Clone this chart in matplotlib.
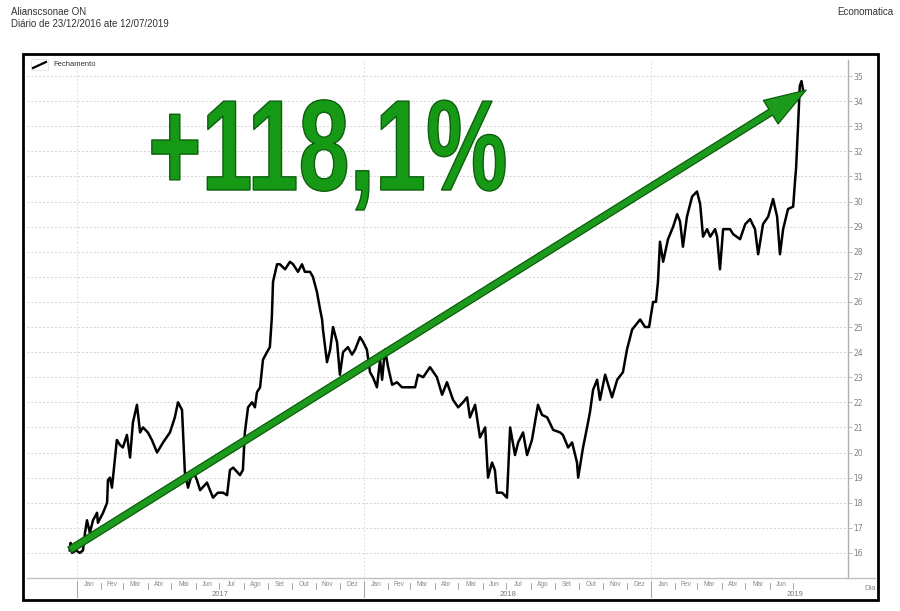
import matplotlib
matplotlib.use("Agg")
import matplotlib.pyplot as plt
import matplotlib.patheffects as pe
from matplotlib.patches import Rectangle, FancyArrowPatch
from matplotlib.lines import Line2D
import matplotlib.transforms as mtransforms

# ---------------- data (decimal year, closing price) ----------------
t = [2016.975, 2016.978, 2016.983, 2016.997, 2017.010, 2017.021, 2017.028, 2017.035, 2017.045, 2017.056,
     2017.070, 2017.073, 2017.091, 2017.105, 2017.108, 2017.115, 2017.122, 2017.132, 2017.139, 2017.150,
     2017.160, 2017.174, 2017.185, 2017.195, 2017.209, 2017.220, 2017.230, 2017.247, 2017.261, 2017.279,
     2017.300, 2017.324, 2017.341, 2017.352, 2017.366, 2017.376, 2017.387, 2017.404, 2017.418, 2017.429,
     2017.453, 2017.474, 2017.491, 2017.509, 2017.523, 2017.533, 2017.544, 2017.568, 2017.578, 2017.585,
     2017.596, 2017.610, 2017.620, 2017.627, 2017.638, 2017.648, 2017.662, 2017.672, 2017.679, 2017.683,
     2017.697, 2017.707, 2017.725, 2017.742, 2017.753, 2017.770, 2017.784, 2017.794, 2017.812, 2017.822,
     2017.836, 2017.847, 2017.854, 2017.857, 2017.871, 2017.882, 2017.892, 2017.906, 2017.916, 2017.927,
     2017.944, 2017.958, 2017.969, 2017.986, 2017.997, 2018.010, 2018.021, 2018.031, 2018.045, 2018.056,
     2018.063, 2018.073, 2018.084, 2018.098, 2018.115, 2018.132, 2018.150, 2018.178, 2018.188, 2018.206,
     2018.230, 2018.254, 2018.272, 2018.289, 2018.310, 2018.328, 2018.345, 2018.359, 2018.369, 2018.387,
     2018.404, 2018.422, 2018.432, 2018.446, 2018.456, 2018.463, 2018.481, 2018.498, 2018.509, 2018.526,
     2018.537, 2018.554, 2018.568, 2018.585, 2018.606, 2018.620, 2018.638, 2018.659, 2018.683, 2018.693,
     2018.711, 2018.725, 2018.742, 2018.746, 2018.763, 2018.777, 2018.787, 2018.798, 2018.812, 2018.822,
     2018.840, 2018.864, 2018.882, 2018.902, 2018.916, 2018.934, 2018.962, 2018.979, 2018.993, 2019.007,
     2019.017, 2019.024, 2019.031, 2019.042, 2019.059, 2019.077, 2019.091, 2019.101, 2019.111, 2019.125,
     2019.143, 2019.160, 2019.171, 2019.181, 2019.195, 2019.206, 2019.223, 2019.230, 2019.240, 2019.251,
     2019.275, 2019.286, 2019.310, 2019.328, 2019.345, 2019.362, 2019.373, 2019.390, 2019.408, 2019.425,
     2019.439, 2019.449, 2019.460, 2019.477, 2019.495, 2019.502, 2019.505, 2019.512, 2019.518, 2019.524,
     2019.530]
fechamento = [16.1, 16.4, 16.0, 16.1, 16.0, 16.1, 16.8, 17.3, 16.8, 17.3,
              17.6, 17.2, 17.6, 18.0, 18.9, 19.0, 18.6, 19.7, 20.5, 20.3,
              20.2, 20.7, 19.8, 21.2, 21.9, 20.8, 21.0, 20.8, 20.5, 20.0,
              20.4, 20.8, 21.4, 22.0, 21.7, 19.2, 18.6, 19.3, 18.9, 18.5,
              18.8, 18.2, 18.4, 18.4, 18.3, 19.3, 19.4, 19.1, 19.3, 20.8,
              21.8, 22.0, 21.8, 22.4, 22.6, 23.7, 24.0, 24.2, 25.4, 26.8,
              27.5, 27.5, 27.3, 27.6, 27.5, 27.2, 27.5, 27.2, 27.2, 27.0,
              26.4, 25.7, 25.3, 24.9, 23.6, 24.1, 25.0, 24.4, 23.1, 24.0,
              24.2, 23.9, 24.1, 24.6, 24.4, 24.1, 23.2, 23.0, 22.6, 23.7,
              22.9, 24.1, 23.4, 22.7, 22.8, 22.6, 22.6, 22.6, 23.1, 23.0,
              23.4, 23.0, 22.3, 22.8, 22.1, 21.8, 22.0, 22.2, 21.4, 21.9,
              20.6, 21.0, 19.0, 19.6, 19.3, 18.4, 18.4, 18.2, 21.0, 19.9,
              20.4, 20.8, 19.9, 20.5, 21.9, 21.5, 21.4, 20.9, 20.8, 20.7,
              20.2, 20.4, 19.6, 19.0, 20.2, 21.0, 21.6, 22.5, 22.9, 22.1,
              23.1, 22.2, 22.9, 23.2, 24.1, 24.9, 25.3, 25.0, 25.0, 26.0,
              26.0, 26.8, 28.4, 27.6, 28.5, 29.0, 29.5, 29.2, 28.2, 29.4,
              30.2, 30.4, 29.9, 28.6, 28.9, 28.6, 28.9, 28.6, 27.3, 28.9,
              28.9, 28.7, 28.5, 29.1, 29.3, 28.9, 27.9, 29.1, 29.4, 30.1,
              29.4, 27.9, 28.9, 29.7, 29.8, 30.9, 31.3, 33.0, 34.6, 34.8,
              34.4]

years = [2017, 2018, 2019]
months = ["Jan", "Fev", "Mar", "Abr", "Mai", "Jun", "Jul", "Ago", "Set", "Out", "Nov", "Dez"]
month_days = [0, 31, 59, 90, 120, 151, 181, 212, 243, 273, 304, 334, 365]
months_2019 = 6
y_ticks = list(range(16, 36))
retorno_txt = "+118,1%"

# ---------------- figure ----------------
W, H = 900, 611
fig = plt.figure(figsize=(W / 100, H / 100), dpi=100)
fig.patch.set_facecolor("white")

def fx(px):
    return px / W

def fy(py):
    return 1 - py / H


class CondensedStroke(pe.AbstractPathEffect):
    """Draws text glyphs horizontally condensed around x0 (display px), with an outline."""

    def __init__(self, x0, sx, edge, lw):
        super().__init__()
        self.x0, self.sx, self.edge, self.lw = x0, sx, edge, lw

    def draw_path(self, renderer, gc, tpath, affine, rgbFace=None):
        aff = affine + mtransforms.Affine2D().translate(-self.x0, 0).scale(self.sx, 1).translate(self.x0, 0)
        gc0 = renderer.new_gc()
        gc0.copy_properties(gc)
        gc0.set_foreground(self.edge)
        gc0.set_linewidth(self.lw)
        renderer.draw_path(gc0, tpath, aff, rgbFace)
        gc0.restore()


ax = fig.add_axes([fx(27), fy(578), fx(848) - fx(27), fy(60) - fy(578)])
ax.set_xlim(2016.826, 2019.686)
ax.set_ylim(15.0, 35.64)

for s in ["top", "left", "bottom"]:
    ax.spines[s].set_visible(False)
ax.spines["right"].set_color("#b0b0b0")
ax.spines["right"].set_linewidth(1.0)

ax.yaxis.tick_right()
ax.set_yticks(y_ticks)
ax.tick_params(axis="y", direction="out", length=3, width=0.6, colors="#b0b0b0",
               labelcolor="#808080", labelsize=5.5, pad=1)
ax.set_xticks([])
ax.grid(axis="y", color="#d4d4d4", linestyle=(0, (2, 2)), linewidth=0.7)
for yr in years:
    ax.axvline(yr, color="#dddddd", linestyle=(0, (2, 2)), linewidth=0.7, zorder=0)

# price line
ax.plot(t, fechamento, color="black", linewidth=1.8, solid_joinstyle="round", zorder=3)

# arrow
arrow = FancyArrowPatch((t[0], 16.12), (2019.54, 34.44),
                        arrowstyle="simple,head_length=30,head_width=20,tail_width=5",
                        mutation_scale=1, facecolor="#1b9a1b", edgecolor="#0c5c0c",
                        linewidth=0.9, shrinkA=0, shrinkB=0, zorder=4)
ax.add_patch(arrow)

# big text (real text, drawn condensed)
x_left = 148
big = fig.text(fx(x_left), fy(190), retorno_txt, fontsize=93, fontweight="bold",
               family=["Liberation Sans", "DejaVu Sans"],
               color="#169a16", ha="left", va="baseline", zorder=5)
big.set_path_effects([CondensedStroke(x_left, 0.71, "#0d5f0d", 1.0)])

# x axis month labels and separators
btrans = mtransforms.blended_transform_factory(ax.transData, ax.transAxes)
for yr in years:
    n = 12 if yr != 2019 else months_2019
    for i in range(n):
        x0 = yr + month_days[i] / 365
        x1 = yr + month_days[i + 1] / 365
        ax.text((x0 + x1) / 2, -0.0135, months[i], transform=btrans, fontsize=4.8,
                color="#8a8a8a", ha="center", va="center", clip_on=False,
                family=["Liberation Sans", "DejaVu Sans"])
        if i + 1 < 12:
            ax.plot([x1, x1], [-0.009, -0.021], transform=btrans, color="#9a9a9a",
                    linewidth=0.6, clip_on=False)
    ax.plot([yr, yr], [-0.006, -0.036], transform=btrans, color="#aaaaaa",
            linewidth=0.8, clip_on=False)
    ax.text(yr + 0.5, -0.031, str(yr), transform=btrans, fontsize=5.5, color="#7a7a7a",
            ha="center", va="center", clip_on=False, family=["Liberation Sans", "DejaVu Sans"])

fig.text(fx(870), fy(589), "Dia", fontsize=5.5, color="#8a8a8a", ha="center", va="center",
         family=["Liberation Sans", "DejaVu Sans"])

# bottom axis line
fig.add_artist(Line2D([fx(27), fx(875)], [fy(578), fy(578)], color="#c0c0c0", linewidth=1.0))

# frame
fig.add_artist(Rectangle((fx(23), fy(600)), fx(878) - fx(23), fy(54) - fy(600),
                         fill=False, edgecolor="black", linewidth=2.0))

# legend
fig.add_artist(Rectangle((fx(31), fy(70)), fx(48) - fx(31), fy(59) - fy(70),
                         fill=False, edgecolor="#dddddd", linewidth=0.5))
fig.add_artist(Line2D([fx(33), fx(46)], [fy(68), fy(62)], color="black", linewidth=1.6))
fig.text(fx(53), fy(65), "Fechamento", fontsize=5.5, color="#333333", ha="left", va="center",
         family=["Liberation Sans", "DejaVu Sans"])

# header
fig.text(fx(11), fy(12), "Alianscsonae ON", fontsize=7, color="#333333", ha="left", va="center",
         family=["Liberation Sans", "DejaVu Sans"])
fig.text(fx(11), fy(24), "Diário de 23/12/2016 ate 12/07/2019", fontsize=7, color="#333333",
         ha="left", va="center", family=["Liberation Sans", "DejaVu Sans"])
fig.text(fx(893), fy(12), "Economatica", fontsize=7, color="#333333", ha="right", va="center",
         family=["Liberation Sans", "DejaVu Sans"])

fig.savefig("out.png", dpi=100)
